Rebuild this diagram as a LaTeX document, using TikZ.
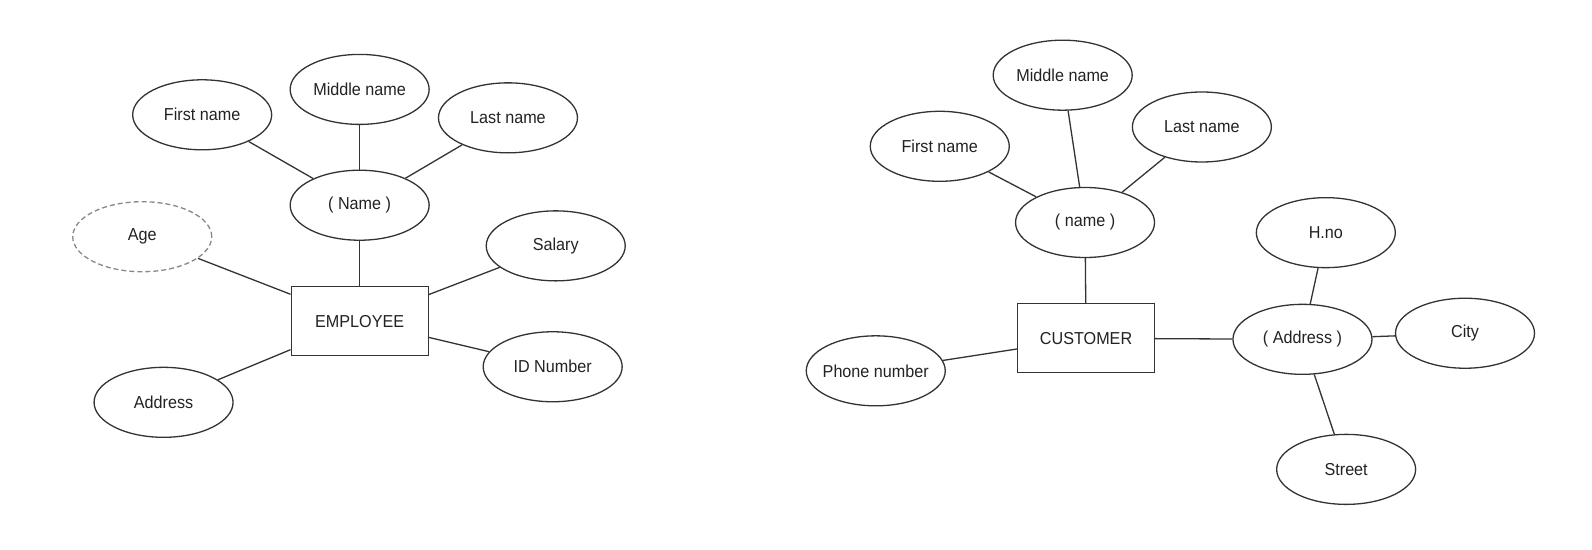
\documentclass[tikz,border=0pt]{standalone}
\usepackage{fontspec}
\setmainfont[FakeStretch=0.935]{Liberation Sans}
\usetikzlibrary{shapes.geometric}
\definecolor{edgecol}{HTML}{333333}
\definecolor{txtcol}{HTML}{222222}
\definecolor{dashcol}{HTML}{888888}
\tikzset{
  attr/.style={ellipse, draw=edgecol, line width=1.3pt, minimum width=139pt, minimum height=70pt, inner sep=0pt, text=txtcol, font=\fontsize{17.3}{20}\selectfont},
  derived/.style={attr, draw=dashcol, dash pattern=on 5pt off 3pt},
  entity/.style={rectangle, draw=edgecol, line width=1.3pt, minimum width=137pt, minimum height=69pt, inner sep=0pt, text=txtcol, font=\fontsize{17.3}{20}\selectfont},
  link/.style={draw=edgecol, line width=1.3pt}
}
\begin{document}
\begin{tikzpicture}[x=1.016pt, y=-1.016pt]
\useasboundingbox (0,0) rectangle (1567,541.3);
% EMPLOYEE diagram
\node[entity] (emp) at (354,316) {EMPLOYEE};
\node[attr] (ename) at (354,202) {( Name )};
\node[attr] (efirst) at (199,113) {First name};
\node[attr] (emiddle) at (354,88) {Middle name};
\node[attr] (elast) at (500,116) {Last name};
\node[derived] (eage) at (140,233) {Age};
\node[attr] (esal) at (547,242) {Salary};
\node[attr] (eid) at (544,361) {ID Number};
\node[attr] (eaddr) at (161,396) {Address};
\draw[link] (efirst) -- (ename);
\draw[link] (emiddle) -- (ename);
\draw[link] (elast) -- (ename);
\draw[link] (ename) -- (emp);
\draw[link] (eage) -- (emp);
\draw[link] (esal) -- (emp);
\draw[link] (eid) -- (emp);
\draw[link] (eaddr) -- (emp);
% CUSTOMER diagram
\node[entity] (cust) at (1069,333) {CUSTOMER};
\node[attr] (cname) at (1068,219) {( name )};
\node[attr] (cfirst) at (925,144) {First name};
\node[attr] (cmiddle) at (1046,74) {Middle name};
\node[attr] (clast) at (1183,125) {Last name};
\node[attr] (cphone) at (862,365) {\makebox[0pt]{Phone number}};
\node[attr] (caddr) at (1282,334) {\makebox[0pt]{( Address )}};
\node[attr] (chno) at (1305,229) {H.no};
\node[attr] (ccity) at (1442,328) {City};
\node[attr] (cstreet) at (1325,462) {Street};
\draw[link] (cfirst) -- (cname);
\draw[link] (cmiddle) -- (cname);
\draw[link] (clast) -- (cname);
\draw[link] (cname) -- (cust);
\draw[link] (cphone) -- (cust);
\draw[link] (cust) -- (caddr);
\draw[link] (caddr) -- (chno);
\draw[link] (caddr) -- (ccity);
\draw[link] (caddr) -- (cstreet);
\end{tikzpicture}
\end{document}
